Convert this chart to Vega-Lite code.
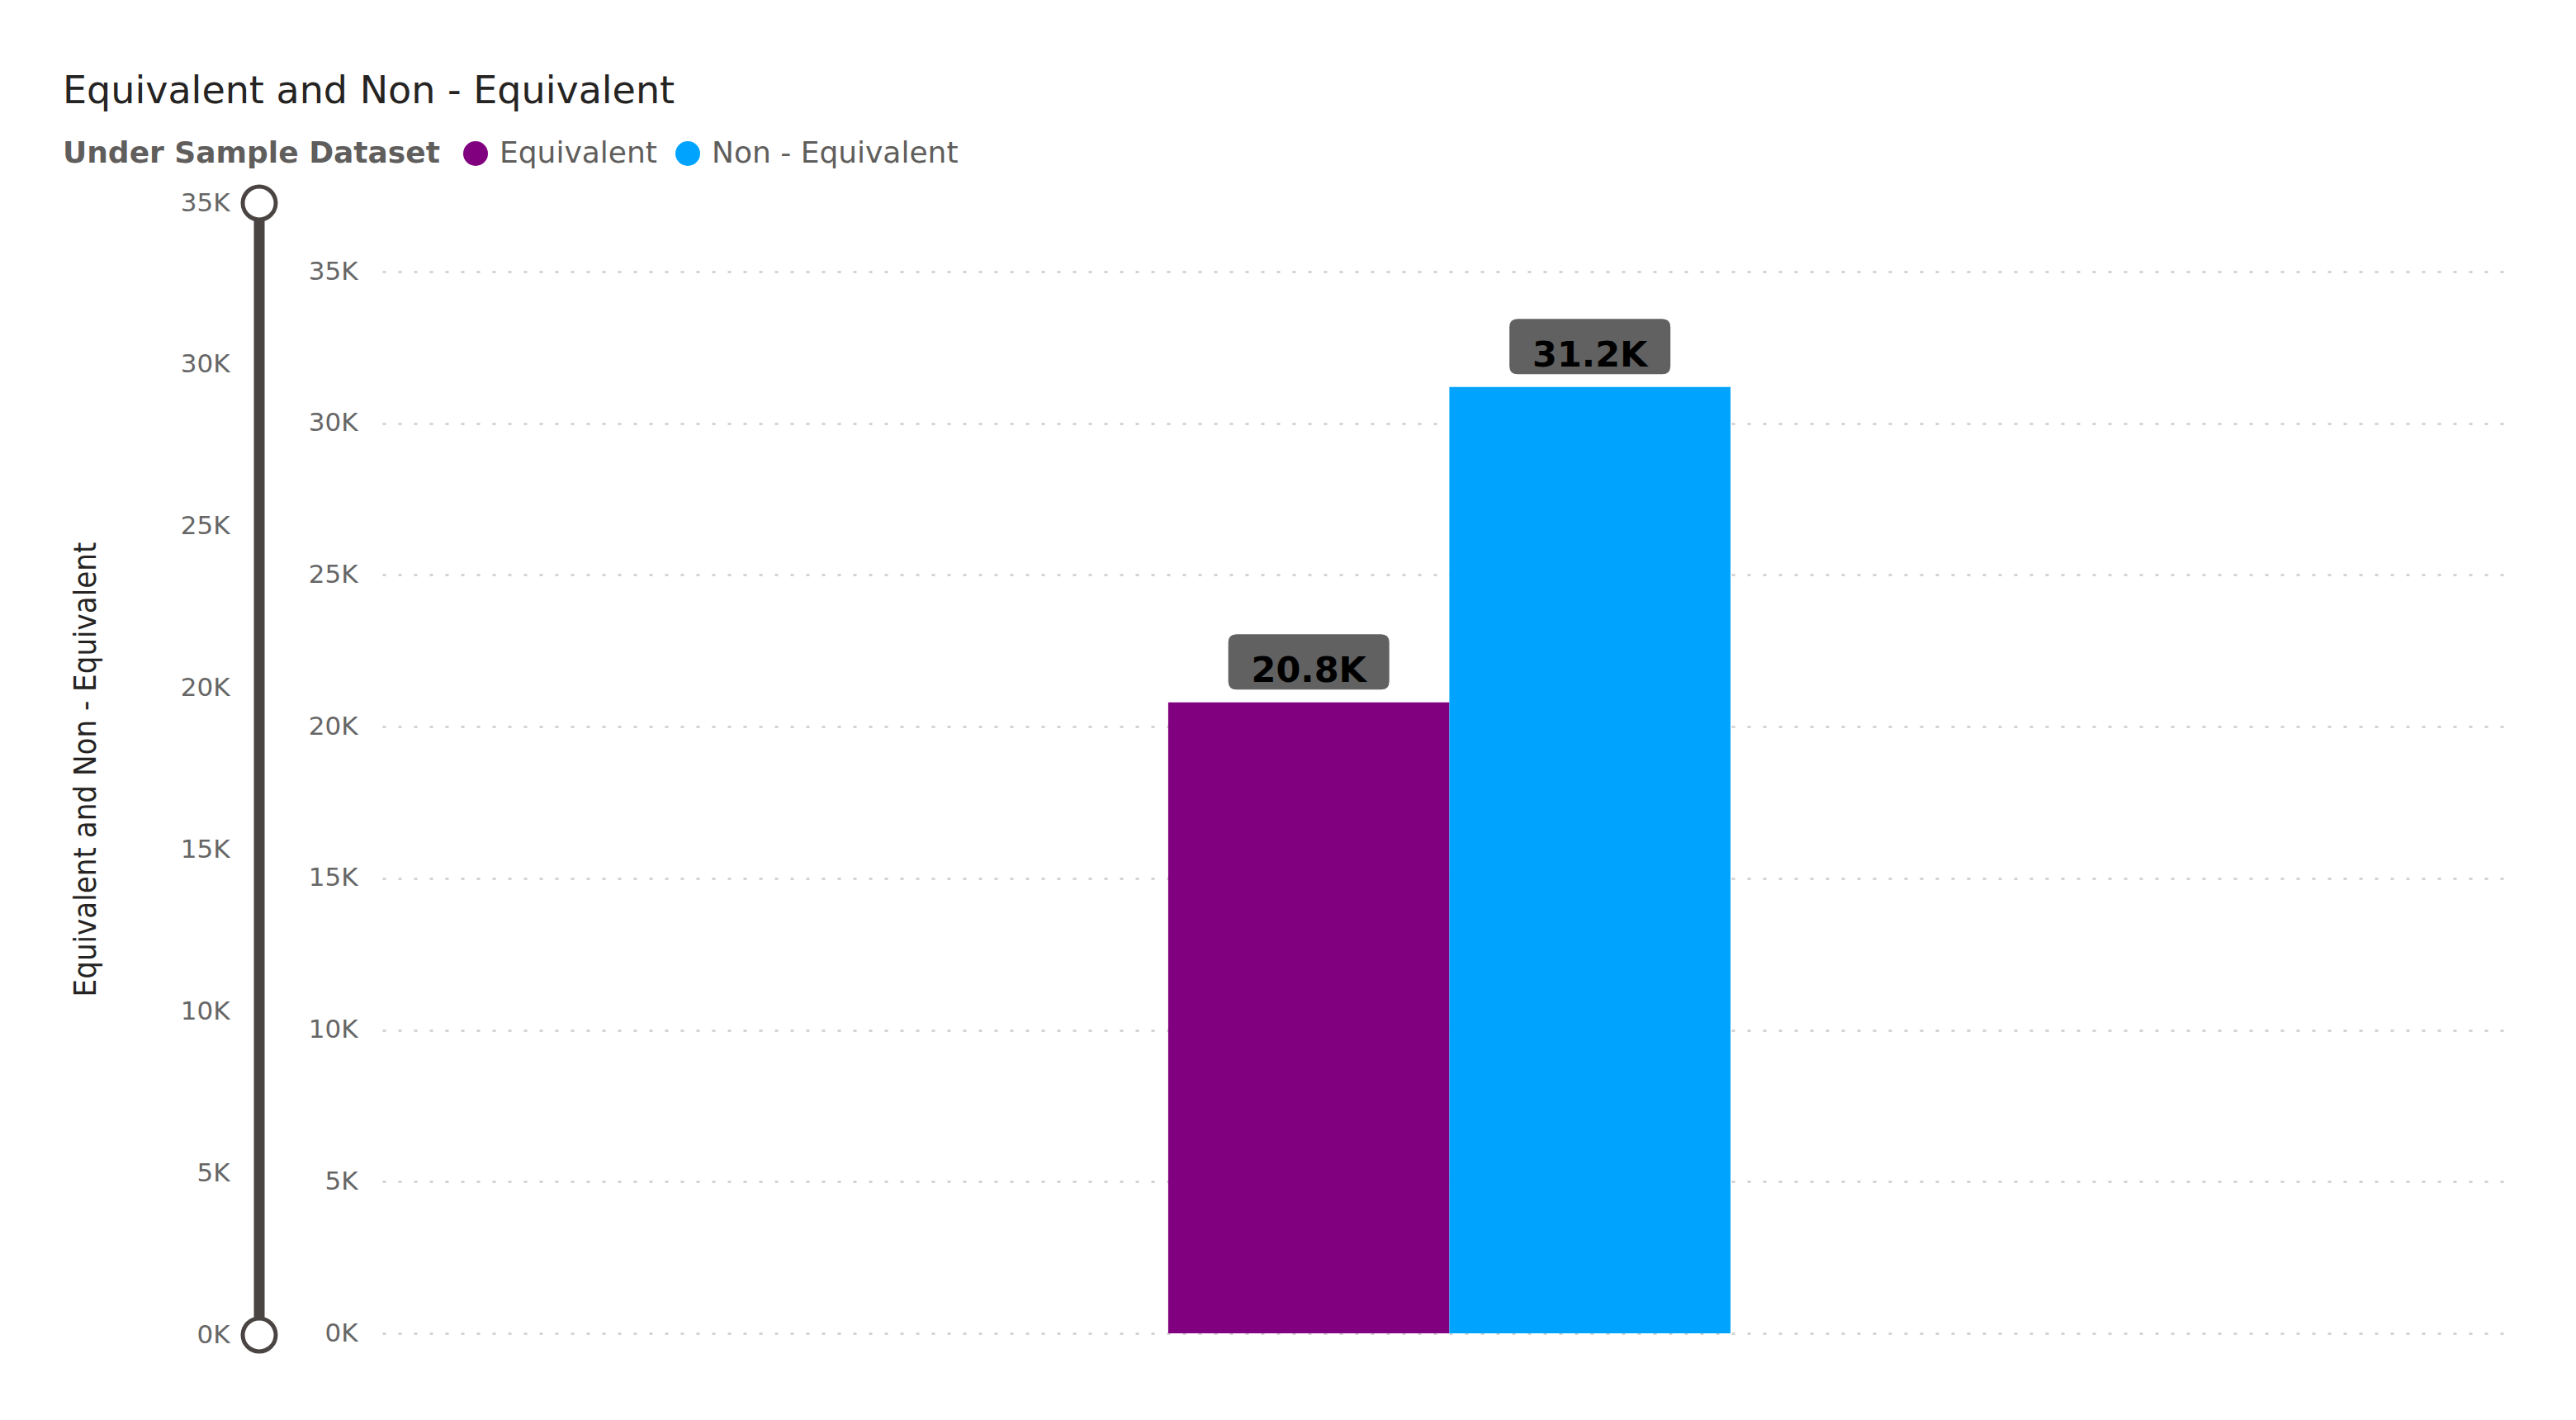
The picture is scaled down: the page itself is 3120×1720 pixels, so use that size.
{
  "$schema": "https://vega.github.io/schema/vega-lite/v6.json",
  "background": "white",
  "padding": {"left": 76, "top": 88, "right": 20, "bottom": 20},
  "title": {
    "text": "Equivalent and Non - Equivalent",
    "anchor": "start",
    "font": "DejaVu Sans",
    "fontSize": 46,
    "fontWeight": "normal",
    "color": "#252423",
    "offset": 33
  },
  "datasets": {
    "bars": [
      {"series": "Equivalent", "value": 20800, "label": "20.8K"},
      {"series": "Non - Equivalent", "value": 31200, "label": "31.2K"}
    ],
    "slider": [{"start": 0, "end": 35000}],
    "knobs": [{"pos": 0}, {"pos": 35000}]
  },
  "bounds": "flush",
  "spacing": 134,
  "resolve": {"scale": {"x": "independent", "y": "independent", "color": "independent"}},
  "hconcat": [
    {
      "width": 30,
      "height": 1371,
      "layer": [
        {
          "data": {"name": "slider"},
          "mark": {"type": "rule", "color": "#4a4542", "strokeWidth": 13},
          "encoding": {
            "y": {
              "field": "start",
              "type": "quantitative",
              "scale": {"domain": [0, 35000], "nice": false},
              "axis": {
                "values": [0, 5000, 10000, 15000, 20000, 25000, 30000, 35000],
                "labelExpr": "datum.value / 1000 + 'K'",
                "domain": false,
                "ticks": false,
                "grid": false,
                "labelPadding": 21,
                "labelFont": "DejaVu Sans",
                "labelFontSize": 31,
                "labelColor": "#666666",
                "title": "Equivalent and Non - Equivalent",
                "titleFont": "DejaVu Sans Condensed",
                "titleFontSize": 38,
                "titleFontWeight": "normal",
                "titleColor": "#252423",
                "titlePadding": 95
              }
            },
            "y2": {"field": "end"}
          }
        },
        {
          "data": {"name": "knobs"},
          "mark": {"type": "point", "shape": "circle", "filled": true, "fill": "white", "stroke": "#4a4542", "strokeWidth": 5, "size": 1600, "opacity": 1},
          "encoding": {
            "y": {"field": "pos", "type": "quantitative"}
          }
        }
      ]
    },
    {
      "width": 2572,
      "height": 1371,
      "data": {"name": "bars"},
      "encoding": {
        "x": {
          "datum": "Under Sample Dataset",
          "type": "nominal",
          "scale": {"paddingInner": 0.2797, "paddingOuter": 1, "align": 0.5034},
          "axis": null
        },
        "xOffset": {
          "field": "series",
          "type": "nominal",
          "scale": {"domain": ["Equivalent", "Non - Equivalent"], "paddingInner": 0, "paddingOuter": 0}
        },
        "y": {
          "field": "value",
          "type": "quantitative",
          "scale": {"domain": [-54, 37259], "nice": false, "zero": false},
          "axis": {
            "values": [0, 5000, 10000, 15000, 20000, 25000, 30000, 35000],
            "labelExpr": "datum.value / 1000 + 'K'",
            "domain": false,
            "ticks": false,
            "grid": true,
            "gridColor": "#d4d4d4",
            "gridWidth": 3,
            "gridDash": [4, 15],
            "labelPadding": 30,
            "labelFont": "DejaVu Sans",
            "labelFontSize": 31,
            "labelColor": "#666666",
            "title": null
          }
        }
      },
      "layer": [
        {
          "mark": {"type": "bar"},
          "encoding": {
            "color": {
              "field": "series",
              "type": "nominal",
              "scale": {"domain": ["Equivalent", "Non - Equivalent"], "range": ["#800080", "#00A4FF"]},
              "legend": {
                "title": "Under Sample Dataset",
                "orient": "none",
                "legendX": -387,
                "legendY": -78,
                "direction": "horizontal",
                "titleOrient": "left",
                "titleFont": "DejaVu Sans",
                "titleFontSize": 36,
                "titleFontWeight": "bold",
                "titleColor": "#605E5C",
                "titlePadding": 25,
                "titleLimit": 2000,
                "labelFont": "DejaVu Sans",
                "labelFontSize": 36,
                "labelColor": "#605E5C",
                "labelLimit": 0,
                "labelOffset": 11,
                "columnPadding": 19,
                "symbolType": "circle",
                "symbolSize": 900,
                "symbolStrokeWidth": 0,
                "padding": 0
              }
            }
          }
        },
        {
          "mark": {
            "type": "point",
            "shape": "M -0.8974,-0.3436 L 0.8974,-0.3436 Q 1,-0.3436 1,-0.241 L 1,0.241 Q 1,0.3436 0.8974,0.3436 L -0.8974,0.3436 Q -1,0.3436 -1,0.241 L -1,-0.241 Q -1,-0.3436 -0.8974,-0.3436 Z",
            "filled": true,
            "color": "#616161",
            "opacity": 1,
            "size": 38025,
            "yOffset": -49
          }
        },
        {
          "mark": {"type": "text", "font": "DejaVu Sans", "fontSize": 43, "fontWeight": "bold", "color": "#000000", "baseline": "alphabetic", "align": "center", "dy": -25},
          "encoding": {"text": {"field": "label"}}
        }
      ]
    }
  ],
  "config": {"view": {"stroke": null}}
}
